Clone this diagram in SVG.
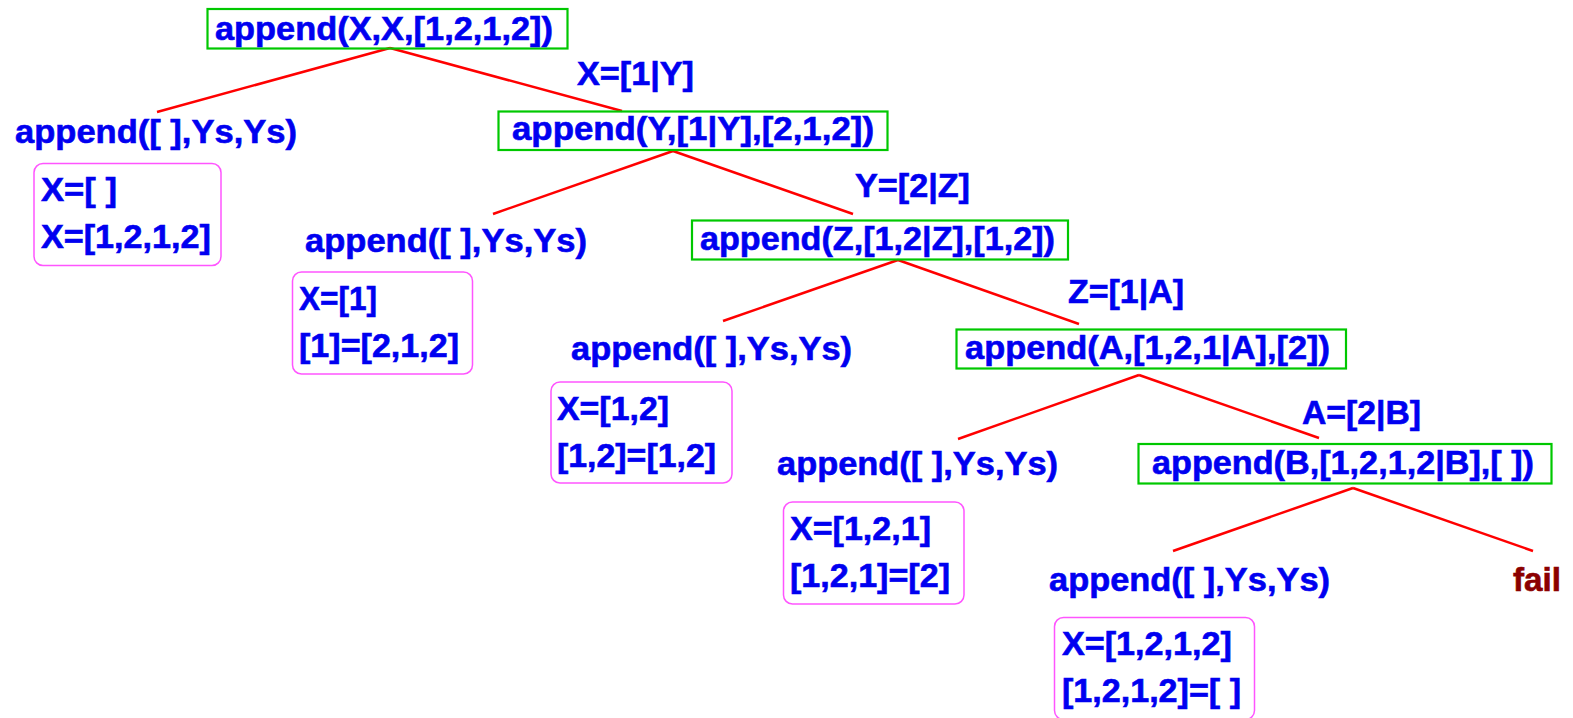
<svg xmlns="http://www.w3.org/2000/svg" width="1573" height="718" viewBox="0 0 1573 718">
  <style>
    text { font-family: "Liberation Sans", Arial, sans-serif; font-weight: bold; font-size: 33px; fill: #0000F0; stroke: #0000F0; stroke-width: 0.6; }
    text.fail { fill: #8B0000; stroke: #8B0000; }
    .goal { fill: none; stroke: #00C800; stroke-width: 2.2; }
    .answer { fill: none; stroke: #FF55FF; stroke-width: 1.5; }
    .edge { stroke: #FF0000; stroke-width: 2.5; fill: none; }
  </style>

  <!-- derivation tree edges -->
  <g id="edges">
    <line class="edge" x1="390" y1="48" x2="157" y2="112"/>
    <line class="edge" x1="390" y1="48" x2="622" y2="111"/>
    <line class="edge" x1="673" y1="151" x2="493" y2="214"/>
    <line class="edge" x1="673" y1="151" x2="853" y2="214"/>
    <line class="edge" x1="898" y1="260" x2="723" y2="321"/>
    <line class="edge" x1="898" y1="260" x2="1079" y2="324"/>
    <line class="edge" x1="1139" y1="375" x2="958" y2="439"/>
    <line class="edge" x1="1139" y1="375" x2="1319" y2="438"/>
    <line class="edge" x1="1353" y1="488" x2="1173" y2="551"/>
    <line class="edge" x1="1353" y1="488" x2="1533" y2="551"/>
  </g>

  <!-- goals -->
  <g id="goal1">
    <rect class="goal" x="207.5" y="9" width="360" height="39.5"/>
    <text x="215" y="40" textLength="338" lengthAdjust="spacingAndGlyphs">append(X,X,[1,2,1,2])</text>
  </g>
  <g id="goal2">
    <rect class="goal" x="498.5" y="111.5" width="389" height="38.5"/>
    <text x="512" y="140" textLength="362" lengthAdjust="spacingAndGlyphs">append(Y,[1|Y],[2,1,2])</text>
  </g>
  <g id="goal3">
    <rect class="goal" x="692" y="220.5" width="376" height="39"/>
    <text x="700" y="250" textLength="355" lengthAdjust="spacingAndGlyphs">append(Z,[1,2|Z],[1,2])</text>
  </g>
  <g id="goal4">
    <rect class="goal" x="956.5" y="329.5" width="389.5" height="39"/>
    <text x="965" y="359" textLength="365" lengthAdjust="spacingAndGlyphs">append(A,[1,2,1|A],[2])</text>
  </g>
  <g id="goal5">
    <rect class="goal" x="1138.5" y="444" width="413" height="39.5"/>
    <text x="1152" y="474" textLength="382" lengthAdjust="spacingAndGlyphs">append(B,[1,2,1,2|B],[ ])</text>
  </g>

  <!-- unifier labels -->
  <g id="bind1"><text x="577" y="85" textLength="117" lengthAdjust="spacingAndGlyphs">X=[1|Y]</text></g>
  <g id="bind2"><text x="855" y="197" textLength="115" lengthAdjust="spacingAndGlyphs">Y=[2|Z]</text></g>
  <g id="bind3"><text x="1068" y="303" textLength="116" lengthAdjust="spacingAndGlyphs">Z=[1|A]</text></g>
  <g id="bind4"><text x="1302" y="424" textLength="119" lengthAdjust="spacingAndGlyphs">A=[2|B]</text></g>

  <!-- base-case clauses -->
  <g id="base1"><text x="15" y="143" textLength="282" lengthAdjust="spacingAndGlyphs">append([ ],Ys,Ys)</text></g>
  <g id="base2"><text x="305" y="252" textLength="282" lengthAdjust="spacingAndGlyphs">append([ ],Ys,Ys)</text></g>
  <g id="base3"><text x="571" y="360" textLength="281" lengthAdjust="spacingAndGlyphs">append([ ],Ys,Ys)</text></g>
  <g id="base4"><text x="777" y="475" textLength="281" lengthAdjust="spacingAndGlyphs">append([ ],Ys,Ys)</text></g>
  <g id="base5"><text x="1049" y="591" textLength="281" lengthAdjust="spacingAndGlyphs">append([ ],Ys,Ys)</text></g>
  <g id="failure"><text class="fail" x="1513" y="591" textLength="48" lengthAdjust="spacingAndGlyphs">fail</text></g>

  <!-- answers -->
  <g id="answer1">
    <rect class="answer" x="34" y="163.5" width="187" height="102" rx="9"/>
    <text x="41" y="201" textLength="76" lengthAdjust="spacingAndGlyphs">X=[ ]</text>
    <text x="41" y="248" textLength="170" lengthAdjust="spacingAndGlyphs">X=[1,2,1,2]</text>
  </g>
  <g id="answer2">
    <rect class="answer" x="292.5" y="272" width="180" height="102" rx="9"/>
    <text x="299" y="310" textLength="78" lengthAdjust="spacingAndGlyphs">X=[1]</text>
    <text x="299" y="357" textLength="160" lengthAdjust="spacingAndGlyphs">[1]=[2,1,2]</text>
  </g>
  <g id="answer3">
    <rect class="answer" x="551" y="382" width="181" height="101" rx="9"/>
    <text x="557" y="420" textLength="112" lengthAdjust="spacingAndGlyphs">X=[1,2]</text>
    <text x="557" y="467" textLength="159" lengthAdjust="spacingAndGlyphs">[1,2]=[1,2]</text>
  </g>
  <g id="answer4">
    <rect class="answer" x="783.5" y="502" width="180.5" height="102" rx="9"/>
    <text x="790" y="540" textLength="141" lengthAdjust="spacingAndGlyphs">X=[1,2,1]</text>
    <text x="790" y="587" textLength="160" lengthAdjust="spacingAndGlyphs">[1,2,1]=[2]</text>
  </g>
  <g id="answer5">
    <rect class="answer" x="1054.5" y="617.5" width="200" height="102" rx="9"/>
    <text x="1062" y="655" textLength="170" lengthAdjust="spacingAndGlyphs">X=[1,2,1,2]</text>
    <text x="1062" y="702" textLength="179" lengthAdjust="spacingAndGlyphs">[1,2,1,2]=[ ]</text>
  </g>
</svg>
